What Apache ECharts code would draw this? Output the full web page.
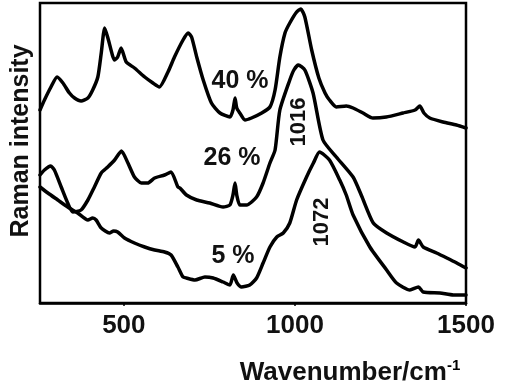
<!DOCTYPE html>
<html>
<head>
<meta charset="utf-8">
<script src="https://cdn.jsdelivr.net/npm/echarts@6/dist/echarts.min.js"></script>
<style>
html,body{margin:0;padding:0;background:#fff;}
#c{width:506px;height:390px;}
</style>
</head>
<body>
<div id="c"></div>
<script>
// Wavenumber (cm^-1) and intensity (a.u.)
var x40 = [255,268,287,305,322,341,356,375,395,409,424,434,444,455,473,482,492,507,531,561,585,604,629,648,673,688,698,713,732,756,781,810,819,825,830,839,854,873,903,927,942,956,971,985,1005,1017,1029,1049,1070,1088,1101,1121,1150,1170,1199,1228,1267,1316,1351,1365,1377,1394,1433,1472,1500];
var y40 = [193,203,216,226,220,210,205,202,205,213,226,250,275,263,243,246,255,241,235,226,220,216,231,246,263,270,266,246,223,200,190,186,193,205,195,190,183,185,190,196,213,246,270,280,291,294,286,253,225,210,203,196,197,195,190,185,186,190,193,197,190,185,181,178,175];

var x26 = [255,268,286,297,317,336,351,375,395,414,434,453,473,493,512,531,551,570,590,619,638,658,664,683,713,751,790,810,819,825,830,839,859,888,907,927,942,956,985,997,1010,1029,1053,1082,1121,1170,1195,1229,1268,1317,1351,1361,1375,1414,1444,1473,1500];
var y26 = [128,133,137,133,116,100,91,93,103,116,130,136,143,152,140,126,120,120,125,128,131,116,115,108,103,100,96,98,108,120,108,98,98,106,120,140,153,193,223,233,238,233,210,163,146,126,107,80,70,61,56,63,56,50,45,40,35];

var x5 = [255,278,307,336,365,395,409,419,434,458,470,482,502,531,561,590,619,638,658,673,683,708,737,761,790,810,820,831,844,868,888,907,927,947,966,985,1005,1034,1054,1072,1101,1131,1150,1170,1219,1268,1297,1336,1361,1375,1424,1463,1500];
var y5 = [116,110,103,96,90,83,85,83,75,70,72,71,65,60,56,53,51,48,36,26,25,23,26,25,21,18,28,20,16,18,25,40,56,66,70,80,103,126,140,151,143,123,108,88,56,33,20,13,16,11,10,8,8];

var xTicks = [500, 1000, 1500];

function pairs(xs, ys){ return xs.map(function(v,i){ return [v, ys[i]]; }); }

var chart = echarts.init(document.getElementById('c'), null, {renderer:'canvas'});
var ff = '"Liberation Sans", Arial, sans-serif';
var lineStyle = {color:'#000', width:3.5, join:'round', cap:'round'};
chart.setOption({
  animation:false,
  backgroundColor:'#fff',
  grid:{left:40, right:40, top:3, bottom:87, show:true, borderColor:'#000', borderWidth:2.5, backgroundColor:'transparent'},
  xAxis:{
    type:'value', min:255, max:1500,
    axisLine:{show:true, lineStyle:{color:'#000', width:2.5}},
    axisTick:{show:true, customValues:xTicks, length:3, lineStyle:{color:'#000', width:1.5}},
    axisLabel:{show:true, customValues:xTicks, formatter:function(v){ return String(v); }, color:'#111', fontFamily:ff, fontWeight:'bold', fontSize:26, margin:10},
    splitLine:{show:false}
  },
  yAxis:{
    type:'value', min:0, max:300,
    axisLine:{show:false}, axisTick:{show:false}, axisLabel:{show:false}, splitLine:{show:false}
  },
  series:[
    {type:'line', data:pairs(x40,y40), symbol:'none', lineStyle:lineStyle, smooth:0.2},
    {type:'line', data:pairs(x26,y26), symbol:'none', lineStyle:lineStyle, smooth:0.2},
    {type:'line', data:pairs(x5,y5), symbol:'none', lineStyle:lineStyle, smooth:0.2}
  ],
  graphic:[
    {type:'text', x:240, y:81, style:{text:'40 %', font:'bold 25px '+ff, fill:'#111', align:'center', verticalAlign:'middle'}},
    {type:'text', x:232, y:158, style:{text:'26 %', font:'bold 25px '+ff, fill:'#111', align:'center', verticalAlign:'middle'}},
    {type:'text', x:233, y:256, style:{text:'5 %', font:'bold 25px '+ff, fill:'#111', align:'center', verticalAlign:'middle'}},
    {type:'text', x:299, y:122, rotation:Math.PI/2, style:{text:'1016', font:'bold 22px '+ff, fill:'#111', align:'center', verticalAlign:'middle'}},
    {type:'text', x:322, y:222, rotation:Math.PI/2, style:{text:'1072', font:'bold 22px '+ff, fill:'#111', align:'center', verticalAlign:'middle'}},
    {type:'text', x:21, y:141, rotation:Math.PI/2, style:{text:'Raman intensity', font:'bold 25px '+ff, fill:'#111', align:'center', verticalAlign:'middle'}},
    {type:'text', x:350, y:373, style:{text:'{a|Wavenumber/cm}{s|-1}', align:'center', verticalAlign:'middle',
      rich:{a:{fontFamily:ff, fontWeight:'bold', fontSize:26, fill:'#111', color:'#111'},
            s:{fontFamily:ff, fontWeight:'bold', fontSize:15, color:'#111', verticalAlign:'top', padding:[0,0,14,0]}}}}
  ]
});
</script>
</body>
</html>
